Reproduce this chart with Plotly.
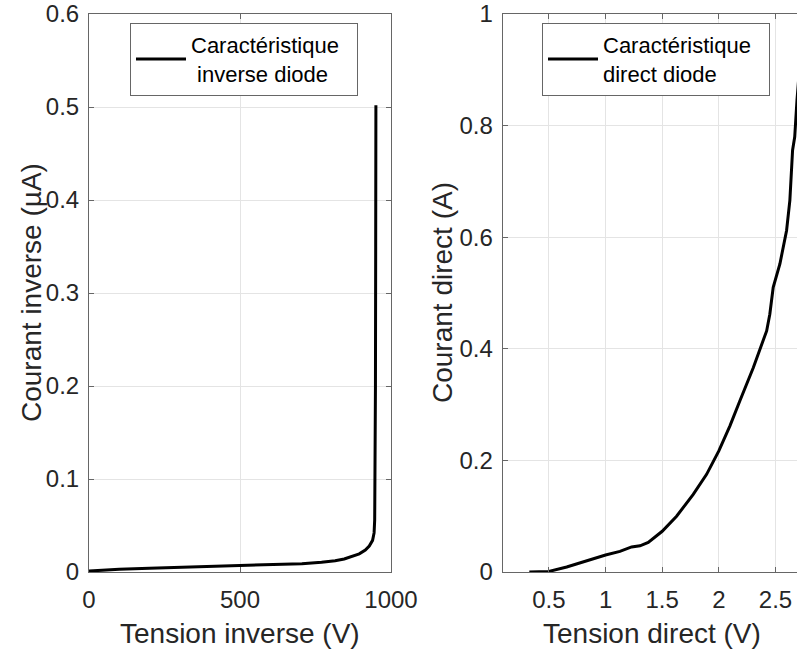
import plotly.graph_objects as go

# Reverse characteristic (left)
v_inv = [0, 50, 100, 200, 318, 400, 502, 600, 705, 770, 815, 845, 870, 895, 915,
         928, 939, 944, 946, 947.5, 948.5, 949.3, 950]
i_inv = [0.001, 0.002, 0.003, 0.004, 0.005, 0.006, 0.0068, 0.0078, 0.009, 0.0105, 0.012,
         0.014, 0.0165, 0.0195, 0.0237, 0.028, 0.034, 0.042, 0.056, 0.1, 0.2, 0.35, 0.502]

# Forward characteristic (right)
v_dir = [0.327, 0.5, 0.657, 0.803, 1.0, 1.127, 1.23, 1.304, 1.377, 1.5, 1.627, 1.774,
         1.892, 2.0, 2.098, 2.186, 2.304, 2.422, 2.45, 2.48, 2.539, 2.598, 2.627,
         2.651, 2.67, 2.69, 2.72, 2.75]
i_dir = [0.0, 0.001, 0.009, 0.0187, 0.0305, 0.037, 0.045, 0.047, 0.053, 0.073, 0.1, 0.139,
         0.175, 0.217, 0.262, 0.307, 0.366, 0.432, 0.462, 0.51, 0.552, 0.612, 0.666,
         0.756, 0.78, 0.846, 0.93, 1.0]

x1_ticks = [0, 500, 1000]
y1_ticks = [0, 0.1, 0.2, 0.3, 0.4, 0.5, 0.6]
y1_labels = ["0", "0.1", "0.2", "0.3", "0.4", "0.5", "0.6"]
x2_ticks = [0.5, 1, 1.5, 2, 2.5, 3]
x2_labels = ["0.5", "1", "1.5", "2", "2.5", "3"]
y2_ticks = [0, 0.2, 0.4, 0.6, 0.8, 1]
y2_labels = ["0", "0.2", "0.4", "0.6", "0.8", "1"]

W, H = 797, 653
FONT = "Liberation Sans, Arial, Helvetica, sans-serif"
TXT = "#262626"
AX = "#666666"
GRID = "#e4e4e4"

def px(x):
    return x / W

def py(y):
    return 1 - y / H

fig = go.Figure()
fig.add_trace(go.Scatter(x=v_inv, y=i_inv, mode="lines", xaxis="x", yaxis="y",
                         line=dict(color="black", width=3),
                         name="Caractéristique\u00a0\u00a0<br>\u00a0inverse diode", legend="legend"))
fig.add_trace(go.Scatter(x=v_dir, y=i_dir, mode="lines", xaxis="x2", yaxis="y2",
                         line=dict(color="black", width=3),
                         name="Caractéristique\u00a0\u00a0<br>direct diode", legend="legend2"))

common = dict(showline=True, linecolor=AX, linewidth=1, ticks="inside", ticklen=5,
              tickcolor=AX, tickwidth=1, showgrid=True, gridcolor=GRID, gridwidth=1,
              zeroline=False, automargin=False,
              tickfont=dict(family=FONT, size=24, color=TXT))

ydom = [py(572), py(14)]
leg_common = dict(xanchor="left", yanchor="top", bgcolor="white", bordercolor=AX,
                  borderwidth=1, itemwidth=50, tracegroupgap=0,
                  font=dict(family=FONT, size=22, color="black"))
fig.update_layout(
    template="none",
    width=W, height=H, margin=dict(l=0, r=0, t=0, b=0, pad=0),
    paper_bgcolor="white", plot_bgcolor="white",
    xaxis=dict(domain=[px(89), px(391)], range=[0, 1000], tickvals=x1_ticks,
               mirror="allticks", anchor="y", ticklabelstandoff=6, **common),
    yaxis=dict(domain=ydom, range=[0, 0.6], tickvals=y1_ticks, ticktext=y1_labels,
               mirror="allticks", anchor="x", ticklabelstandoff=4, **common),
    xaxis2=dict(domain=[px(502.7), 1], range=[0.092, 2.69], tickvals=x2_ticks,
                ticktext=x2_labels, mirror="allticks", anchor="y2", ticklabelstandoff=6,
                **common),
    yaxis2=dict(domain=ydom, range=[0, 1], tickvals=y2_ticks, ticktext=y2_labels,
                mirror=False, anchor="x2", ticklabelstandoff=4, **common),
    legend=dict(x=px(130), y=py(23), **leg_common),
    legend2=dict(x=px(542), y=py(23), **leg_common),
    showlegend=True,
)

ann_font = dict(family=FONT, size=28, color=TXT)
fig.add_annotation(text="Tension inverse (V)", xref="paper", yref="paper",
                   x=px(240), y=py(633), xanchor="center", yanchor="middle",
                   showarrow=False, font=ann_font)
fig.add_annotation(text="Tension direct (V)", xref="paper", yref="paper",
                   x=px(652), y=py(633), xanchor="center", yanchor="middle",
                   showarrow=False, font=ann_font)
fig.add_annotation(text="Courant inverse (µA)", xref="paper", yref="paper",
                   x=px(31), y=py(293), xanchor="center", yanchor="middle",
                   textangle=-90, showarrow=False, font=ann_font)
fig.add_annotation(text="Courant direct (A)", xref="paper", yref="paper",
                   x=px(442), y=py(293), xanchor="center", yanchor="middle",
                   textangle=-90, showarrow=False, font=ann_font)

fig.write_html(
    "out.html",
    config={"displayModeBar": False},
    post_script="document.body.style.margin='0';document.body.style.overflow='hidden';"
                "document.documentElement.style.overflow='hidden';",
)
